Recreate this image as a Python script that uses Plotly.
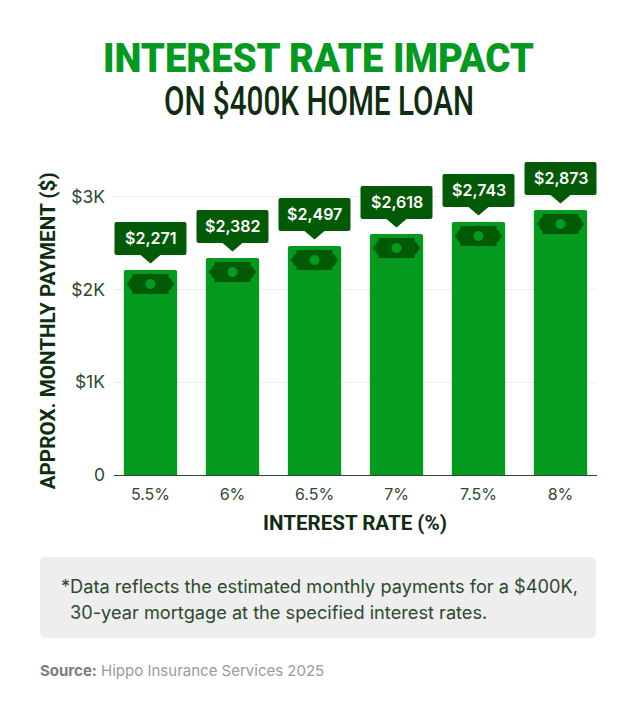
import plotly.graph_objects as go

rates = ["5.5%", "6%", "6.5%", "7%", "7.5%", "8%"]
bar_heights = [2211, 2340, 2470, 2600, 2729, 2858]
payment_labels = ["$2,271", "$2,382", "$2,497", "$2,618", "$2,743", "$2,873"]
y_ticks = [0, 1000, 2000, 3000]
y_tick_labels = ["0", "$1K", "$2K", "$3K"]

GREEN = "#049a1e"
DARK_GREEN = "#035a06"
TEXT = "#2c4a2c"
TITLE_DARK = "#0f2d0f"
W, H = 636, 709
L, R, T, B = 114, 597, 150, 475

# widths the condensed headings are squeezed to (no condensed font installed)
squeezed = {
    "INTEREST RATE IMPACT": 431,
    "ON $400K HOME LOAN": 310,
    "INTEREST RATE (%)": 184,
    "APPROX. MONTHLY PAYMENT ($)": 317,
}

# callout and bill outlines, pixels relative to the top of each bar
callout = ("M -34 15 L -10 15 L 0 6.5 L 10 15 L 34 15 Q 36 15 36 17 L 36 46 Q 36 48 34 48 "
           "L -34 48 Q -36 48 -36 46 L -36 17 Q -36 15 -34 15 Z")
bill = ("M -18 -4 L 18 -4 L 18 -7 L 21 -9.5 L 21 -11 L 24 -14 L 21 -17 L 21 -18.5 L 18 -21 L 18 -24 "
        "L -18 -24 L -18 -21 L -21 -18.5 L -21 -17 L -24 -14 L -21 -11 L -21 -9.5 L -18 -7 Z")
coin = ("M -5 -14 C -5 -11.2 -2.8 -9 0 -9 C 2.8 -9 5 -11.2 5 -14 "
        "C 5 -16.8 2.8 -19 0 -19 C -2.8 -19 -5 -16.8 -5 -14 Z")

fig = go.Figure()
fig.add_trace(go.Bar(x=rates, y=bar_heights, width=0.65, marker=dict(color=GREEN, line=dict(width=0), cornerradius=2),
                     hoverinfo="skip"))

for rate, h, label in zip(rates, bar_heights, payment_labels):
    for path, color in [(callout, DARK_GREEN), (bill, DARK_GREEN), (coin, GREEN)]:
        fig.add_shape(type="path", path=path, xref="x", yref="y", xsizemode="pixel", ysizemode="pixel",
                      xanchor=rate, yanchor=h, fillcolor=color, line=dict(width=0))
    fig.add_annotation(x=rate, y=h, yshift=32, text=label, showarrow=False,
                       font=dict(family="Inter", size=16, color="white", weight=600))


def fx(x):
    return (x - L) / (R - L)


def fy(y):
    return (B - y) / (B - T)


# note box
x0, x1, y0, y1, r = 40, 596, 557, 638, 5
box = (f"M {fx(x0 + r)} {fy(y0)} L {fx(x1 - r)} {fy(y0)} Q {fx(x1)} {fy(y0)} {fx(x1)} {fy(y0 + r)} "
       f"L {fx(x1)} {fy(y1 - r)} Q {fx(x1)} {fy(y1)} {fx(x1 - r)} {fy(y1)} "
       f"L {fx(x0 + r)} {fy(y1)} Q {fx(x0)} {fy(y1)} {fx(x0)} {fy(y1 - r)} "
       f"L {fx(x0)} {fy(y0 + r)} Q {fx(x0)} {fy(y0)} {fx(x0 + r)} {fy(y0)} Z")
fig.add_shape(type="path", path=box, xref="paper", yref="paper", fillcolor="#eeeeee", line=dict(width=0))


def page_text(x, y, text, size, color, family="Inter", weight=400, xanchor="left", angle=0):
    fig.add_annotation(xref="paper", yref="paper", x=fx(x), y=fy(y), text=text, textangle=angle,
                       showarrow=False, xanchor=xanchor, yanchor="middle", align="left",
                       font=dict(family=family, size=size, color=color, weight=weight))


page_text(318.5, 59, "INTEREST RATE IMPACT", 40, GREEN, "Roboto", 900, "center")
page_text(319, 102, "ON $400K HOME LOAN", 40, TITLE_DARK, "Roboto", 500, "center")
page_text(48, 331, "APPROX. MONTHLY PAYMENT ($)", 21, TITLE_DARK, "Roboto", 700, "center", -90)
page_text(355, 523, "INTEREST RATE (%)", 21, TITLE_DARK, "Roboto", 700, "center")
page_text(59, 586, "*Data reflects the estimated monthly payments for a $400K,", 18.2, TEXT)
page_text(68, 612, "30-year mortgage at the specified interest rates.", 18.2, TEXT)
page_text(38, 670, "<b style='color:#7d7d7d'>Source:</b> Hippo Insurance Services 2025", 15, "#9a9a9a")

fig.update_layout(
    width=W, height=H, margin=dict(l=L, r=W - R, t=T, b=H - B), paper_bgcolor="white", plot_bgcolor="white",
    showlegend=False,
    xaxis=dict(range=[-0.445, 5.445], tickfont=dict(family="Inter", size=16, color=TEXT), ticks="", showgrid=False,
               showline=True, linecolor="#2f4a2f", linewidth=1, ticklabelstandoff=5),
    yaxis=dict(range=[0, (B - T) / 92.7 * 1000], tickmode="array", tickvals=y_ticks, ticktext=y_tick_labels,
               tickfont=dict(family="Inter", size=17.5, color=TEXT), ticks="", ticklabelstandoff=8,
               gridcolor="#eeeeee", gridwidth=1, zeroline=False, showline=False),
)

squeeze_js = """
var widths = %s;
document.querySelectorAll('.annotation-text').forEach(function (t) {
    var w = widths[t.textContent];
    if (w) {
        var old = t.getComputedTextLength();
        t.setAttribute('x', parseFloat(t.getAttribute('x') || 0) + (old - w) / 2);
        t.setAttribute('textLength', w);
        t.setAttribute('lengthAdjust', 'spacingAndGlyphs');
    }
});
document.body.style.margin = '0';
""" % str(squeezed)

fig.write_html("out.html", config=dict(displayModeBar=False), post_script=squeeze_js)
